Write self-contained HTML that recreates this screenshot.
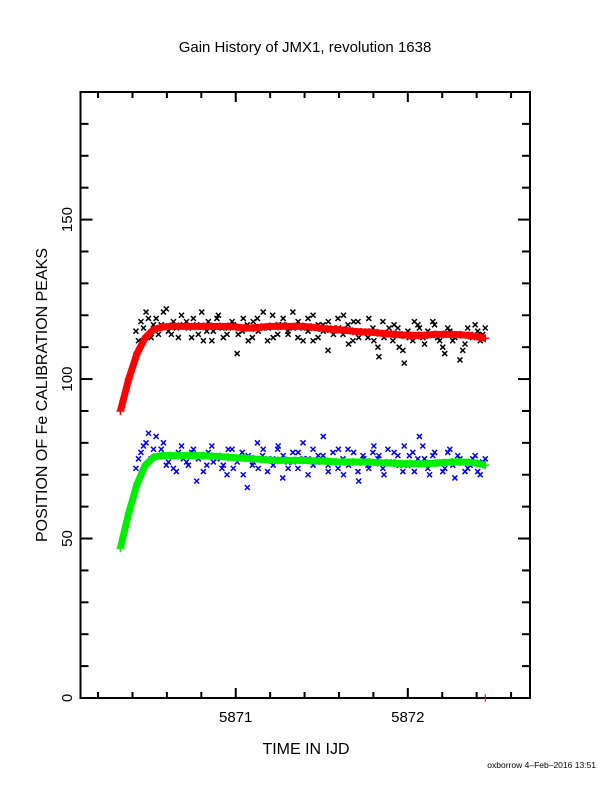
<!DOCTYPE html>
<html><head><meta charset="utf-8"><style>
body{margin:0;background:#fff}
svg{display:block;font-family:"Liberation Sans",sans-serif}
</style></head><body>
<svg id="chart" width="612" height="792" viewBox="0 0 612 792">
<rect width="612" height="792" fill="#fff"/>
<text x="305" y="52" font-size="15" text-anchor="middle">Gain History of JMX1, revolution 1638</text>
<text transform="translate(47,395) rotate(-90)" font-size="16" text-anchor="middle">POSITION OF Fe CALIBRATION PEAKS</text>
<text x="306" y="754" font-size="16" text-anchor="middle">TIME IN IJD</text>
<text x="596" y="768" font-size="8.5" text-anchor="end">oxborrow  4–Feb–2016 13:51</text>
<g id="axes"></g>
<g id="marks"></g>
</svg>
<script>
const xTicksMajor=[5871,5872];
const yTicksMajor=[0,50,100,150];
const curveT0=5870.33, curveT1=5872.45;
const redCurve=[90,100,108,113,115.5,116.3,116.5,116.5,116.5,116.5,116.5,116.5,116.5,116.5,116.3,116,116,116.3,116.5,116.5,116.5,116.5,116.5,116.3,116,115.7,115.5,115.3,115,114.8,114.7,114.5,114.2,114,113.8,113.7,113.7,113.8,114,114,114,113.9,113.7,113.3,112.8];
const greenCurve=[47,58,67,73,75.5,76,76,76,76,76,76,75.8,75.7,75.5,75.3,75.2,75,74.8,74.6,74.5,74.5,74.5,74.5,74.4,74.3,74.2,74,74,74,74,74,73.8,73.7,73.6,73.5,73.5,73.4,73.5,73.6,73.8,74,74,73.9,73.6,73];
const scatterT0=5870.42, scatterT1=5872.45;
const blackScatter=[115,118,121,113,119,117,122,114,116,120,118,113,117,121,115,112,119,116,114,118,108,115,117,113,119,116,112,120,114,117,115,121,113,116,119,112,117,115,118,114,116,120,111,118,113,115,119,112,107,113,116,117,110,105,113,118,116,111,114,117,112,108,115,113,106,111,114,117,112,116];
const blackScatter2=[112,116,119,117,114,121,115,118,113,117,116,119,114,112,118,115,120,113,116,117,114,119,112,118,115,121,116,113,117,119,114,116,118,112,115,120,113,117,109,116,119,114,117,112,118,115,113,116,110,118,114,112,116,109,115,112,117,113,115,118,113,110,116,112,114,109,116,113,115,114];
const blueScatter=[72,77,80,75,82,78,73,76,71,79,74,77,68,76,73,79,75,72,70,78,74,77,66,73,80,76,71,75,78,69,74,77,72,80,75,73,76,82,71,74,78,70,73,77,68,75,72,79,76,70,74,77,73,79,76,71,82,75,70,77,74,72,78,69,75,71,73,76,70,75];
const blueScatter2=[75,79,83,78,76,80,74,72,77,75,73,78,75,71,77,74,76,73,78,72,75,70,76,74,72,78,75,73,79,76,72,74,77,75,70,78,74,76,73,77,72,75,78,74,71,76,73,77,75,72,78,74,76,71,73,77,75,79,72,76,74,71,77,73,76,74,72,75,71,74];
const L=80.5,R=530,T=92,B=698;
const xMin=5870.098,xMax=5872.71,yMin=0,yMax=190;
const X=v=>L+(v-xMin)/(xMax-xMin)*(R-L);
const Y=v=>B-(v-yMin)/(yMax-yMin)*(B-T);
const NS="http://www.w3.org/2000/svg";
function mk(tag,attrs,parent){const e=document.createElementNS(NS,tag);for(const k in attrs)e.setAttribute(k,attrs[k]);parent.appendChild(e);return e;}
const axes=document.getElementById('axes'),marks=document.getElementById('marks');
const frame=mk('rect',{x:L,y:T,width:R-L,height:B-T,fill:'none',stroke:'#000','stroke-width':2},axes);


for(let i=0;i<=13;i++){const v=5870.2+i*0.2;if(v>xMax)break;const x=X(v);const maj=Math.abs(v-Math.round(v))<1e-6;const len=maj?10:6;
 const t=mk('line',{x1:x,y1:B,x2:x,y2:B-len,stroke:'#000','stroke-width':2},axes);
 
 
 const t2=mk('line',{x1:x,y1:T,x2:x,y2:T+len,stroke:'#000','stroke-width':2},axes);
 
 }
xTicksMajor.forEach(v=>{const t=mk('text',{x:X(v),y:722,'font-size':15,'text-anchor':'middle'},axes);t.textContent=v;
 
 });
for(let v=10;v<yMax;v+=10){const y=Y(v);const maj=v%50===0;const len=maj?12:8;
 const a=mk('line',{x1:L,y1:y,x2:L+len,y2:y,stroke:'#000','stroke-width':2},axes);
 
 
 const b=mk('line',{x1:R,y1:y,x2:R-len,y2:y,stroke:'#000','stroke-width':2},axes);
 
 }
yTicksMajor.forEach(v=>{const t=mk('text',{x:0,y:0,'font-size':15,'text-anchor':'middle',transform:`translate(${72},${Y(v)}) rotate(-90)`},axes);t.textContent=v;
 
 });
const rt=mk('line',{x1:X(5872.45),y1:B-4,x2:X(5872.45),y2:B+4,stroke:'#f00','stroke-width':1},axes);


function scatter(vals,t0,t1,color,name){const n=vals.length;vals.forEach((v,i)=>{const x=X(t0+(t1-t0)*i/(n-1)),y=Y(v);
 const p=mk('path',{d:`M${x-2.5},${y-2.5}L${x+2.5},${y+2.5}M${x-2.5},${y+2.5}L${x+2.5},${y-2.5}`,stroke:color,'stroke-width':1.5},marks);
 
 });}
function curve(vals,color,name){const n=vals.length;const pts=vals.map((v,i)=>[X(curveT0+(curveT1-curveT0)*i/(n-1)),Y(v)]);
 const pl=mk('polyline',{points:pts.map(p=>p.join(',')).join(' '),fill:'none',stroke:color,'stroke-width':7,'stroke-linejoin':'round'},marks);
 
 
 pts.forEach(([x,y])=>{const p=mk('path',{d:`M${x-4},${y}L${x+4},${y}M${x},${y-4}L${x},${y+4}`,stroke:color,'stroke-width':1.5},marks);
 
 });}
scatter(blackScatter,scatterT0,scatterT1,'#000','black-peak-point');
scatter(blackScatter2,scatterT0+0.015,scatterT1-0.015,'#000','black-peak-point');
scatter(blueScatter,scatterT0,scatterT1,'#00f','blue-peak-point');
scatter(blueScatter2,scatterT0+0.015,scatterT1-0.015,'#00f','blue-peak-point');
curve(redCurve,'#f00','red-gain-curve');
curve(greenCurve,'#0e0','green-gain-curve');
</script>
</body></html>
